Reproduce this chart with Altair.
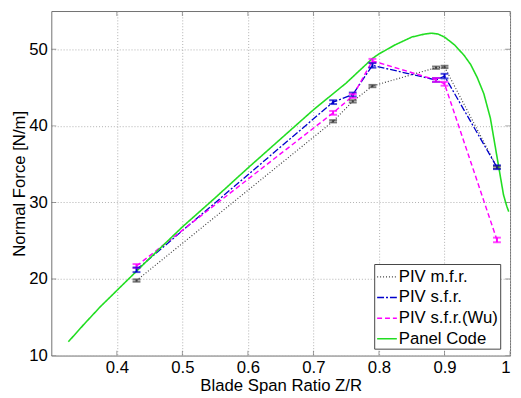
import altair as alt
import pandas as pd

# ---- data ----
series_names = ["PIV m.f.r.", "PIV s.f.r.", "PIV s.f.r.(Wu)", "Panel Code"]
series_colors = ["#404040", "#0000cc", "#ff00ff", "#22dd22"]
series_dash = [[1, 2], [7, 2, 2, 2], [5, 3], [1, 0]]
series_width = [1.2, 1.6, 1.8, 2.2]

piv_x = [0.43, 0.73, 0.76, 0.79, 0.887, 0.90, 0.98]
mfr_y = [19.8, 40.6, 43.2, 45.2, 47.6, 47.7, 34.6]
mfr_err = [0.15, 0.15, 0.15, 0.15, 0.15, 0.15, 0.15]
sfr_y = [21.2, 43.1, 44.1, 47.9, 46.0, 46.5, 34.6]
sfr_err = [0.3, 0.25, 0.25, 0.3, 0.25, 0.3, 0.25]
wu_y = [21.7, 41.7, 43.9, 48.5, 46.0, 45.5, 25.1]
wu_err = [0.25, 0.25, 0.25, 0.25, 0.25, 0.25, 0.3]

panel_x = [0.326, 0.35, 0.375, 0.40, 0.45, 0.50, 0.55, 0.60, 0.65, 0.70, 0.75,
           0.79, 0.80, 0.825, 0.85, 0.87, 0.88, 0.89, 0.90, 0.915, 0.93, 0.94,
           0.95, 0.96, 0.97, 0.98, 0.99, 0.995, 0.998]
panel_y = [11.8, 14.1, 16.4, 18.5, 22.7, 26.8, 30.6, 34.5, 38.3, 42.1, 45.6,
           48.8, 49.4, 50.6, 51.6, 52.0, 52.1, 52.0, 51.6, 50.6, 49.2, 48.0,
           46.3, 44.2, 41.0, 36.0, 31.0, 29.5, 28.8]

x_ticks = [0.4, 0.5, 0.6, 0.7, 0.8, 0.9, 1.0]
y_ticks = [10, 20, 30, 40, 50]
x_domain = [0.3, 1.0]
y_domain = [10, 55]

# ---- tables ----
rows = []
for name, ys in zip(series_names[:3], [mfr_y, sfr_y, wu_y]):
    for xv, yv in zip(piv_x, ys):
        rows.append({"series": name, "x": xv, "y": yv})
for xv, yv in zip(panel_x, panel_y):
    rows.append({"series": "Panel Code", "x": xv, "y": yv})
lines_df = pd.DataFrame(rows)

err_rows = []
for name, ys, es in zip(series_names[:3], [mfr_y, sfr_y, wu_y], [mfr_err, sfr_err, wu_err]):
    for xv, yv, ev in zip(piv_x, ys, es):
        err_rows.append({"series": name, "x": xv, "lo": yv - ev, "hi": yv + ev})
err_df = pd.DataFrame(err_rows)

font = "Liberation Sans"
xscale = alt.Scale(domain=x_domain, nice=False, zero=False)
yscale = alt.Scale(domain=y_domain, nice=False, zero=False)
color_scale = alt.Scale(domain=series_names, range=series_colors)
dash_scale = alt.Scale(domain=series_names, range=series_dash)
width_scale = alt.Scale(domain=series_names, range=series_width)

xaxis = alt.Axis(values=x_ticks, format=".1~f", title="Blade Span Ratio Z/R",
                 grid=True, gridDash=[1, 2], gridColor="#b0b0b0", tickSize=0,
                 labelPadding=4, titleBaseline="alphabetic", titleY=35,
                 domain=False)
yaxis = alt.Axis(values=y_ticks, title="Normal Force [N/m]",
                 grid=True, gridDash=[1, 2], gridColor="#b0b0b0", tickSize=0,
                 labelPadding=4, titleBaseline="alphabetic", titleX=-27,
                 domain=False)

legend = alt.Legend(title=None, orient="none", legendX=328, legendY=257,
                    symbolType="stroke", symbolSize=400, labelFontSize=17,
                    labelFont=font, labelColor="black", labelOffset=1,
                    padding=2, rowPadding=2, fillColor="white",
                    strokeColor="#444444", symbolStrokeWidth=1.8)

lines = alt.Chart(lines_df).mark_line(clip=True).encode(
    x=alt.X("x:Q", scale=xscale, axis=xaxis),
    y=alt.Y("y:Q", scale=yscale, axis=yaxis),
    color=alt.Color("series:N", scale=color_scale, legend=legend, sort=series_names),
    strokeDash=alt.StrokeDash("series:N", scale=dash_scale, legend=legend, sort=series_names),
    strokeWidth=alt.StrokeWidth("series:N", scale=width_scale, legend=None),
)

err_color = alt.Color("series:N", scale=color_scale, legend=None)
err_rule = alt.Chart(err_df).mark_rule(strokeWidth=2).encode(
    x="x:Q", y="lo:Q", y2="hi:Q", color=err_color)
err_lo = alt.Chart(err_df).mark_tick(orient="horizontal", size=8, thickness=2).encode(
    x="x:Q", y="lo:Q", color=err_color)
err_hi = alt.Chart(err_df).mark_tick(orient="horizontal", size=8, thickness=2).encode(
    x="x:Q", y="hi:Q", color=err_color)

# inward tick marks on the box
xt_df = pd.DataFrame({"x": x_ticks})
yt_df = pd.DataFrame({"y": y_ticks})
tick_style = dict(color="#707070", size=10, thickness=1, clip=True)
xt_bottom = alt.Chart(xt_df).mark_tick(orient="vertical", **tick_style).encode(
    x="x:Q", y=alt.datum(y_domain[0]))
xt_top = alt.Chart(xt_df).mark_tick(orient="vertical", **tick_style).encode(
    x="x:Q", y=alt.datum(y_domain[1]))
yt_left = alt.Chart(yt_df).mark_tick(orient="horizontal", **tick_style).encode(
    y="y:Q", x=alt.datum(x_domain[0]))
yt_right = alt.Chart(yt_df).mark_tick(orient="horizontal", **tick_style).encode(
    y="y:Q", x=alt.datum(x_domain[1]))

chart = alt.layer(
    xt_bottom, xt_top, yt_left, yt_right, lines, err_rule, err_lo, err_hi
).resolve_scale(color="shared").properties(
    width=466, height=350,
    background="white",
    autosize=alt.AutoSizeParams(type="none"),
    padding={"left": 44, "top": 0, "right": 3, "bottom": 38},
).configure_view(
    stroke="#707070", strokeWidth=1
).configure_axis(
    labelFont=font, titleFont=font, labelFontSize=17, titleFontSize=17,
    labelColor="black", titleColor="black", titleFontWeight="normal"
)

chart.save("out.html", embed_options={"renderer": "svg", "actions": False})
